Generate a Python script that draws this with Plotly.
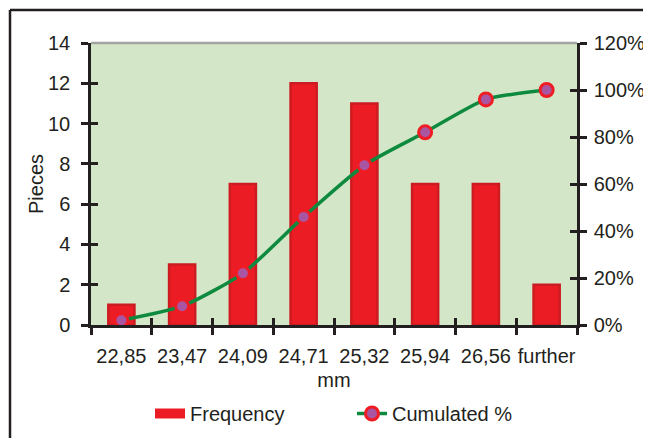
import plotly.graph_objects as go

categories = ["22,85", "23,47", "24,09", "24,71", "25,32", "25,94", "26,56", "further"]
frequency = [1, 3, 7, 12, 11, 7, 7, 2]
cumulated_pct = [0.02, 0.08, 0.22, 0.46, 0.68, 0.82, 0.96, 1.00]

OFF = 8  # default page body margin
W, H = 651 - OFF, 438 - OFF
L, R, T, B = 91, 577, 43, 325  # plot area box in window pixels
FONT = "Liberation Sans, Arial, sans-serif"
AXC = "#231f20"
BAR_RED = "#ec1c24"

def px_x(p):
    return (p - L) / (R - L)

def px_y(p):
    return (B - p) / (B - T)

fig = go.Figure()
fig.add_trace(go.Bar(
    x=categories, y=frequency, name="Frequency", showlegend=False,
    marker=dict(color=BAR_RED, line=dict(color="#cc1b21", width=2.5)),
    width=0.43, yaxis="y",
))
# legend entry for bars drawn as a wide red block, like the reference
fig.add_trace(go.Scatter(
    x=[None], y=[None], name="Frequency", mode="lines",
    line=dict(color=BAR_RED, width=16), yaxis="y", hoverinfo="skip",
))
fig.add_trace(go.Scatter(
    x=categories, y=cumulated_pct, name="Cumulated %", yaxis="y2",
    mode="lines+markers",
    line=dict(color="#0e8a3f", width=3.5, shape="spline", smoothing=0.6),
    marker=dict(color="#a955a2", size=13,
                line=dict(color="#f01c24", width=3)),
))
# helper invisible traces for crossing ticks
fig.add_trace(go.Scatter(x=categories, y=frequency, xaxis="x2", yaxis="y3",
                         mode="markers", marker=dict(opacity=0), showlegend=False,
                         hoverinfo="skip"))
fig.add_trace(go.Scatter(x=categories, y=cumulated_pct, xaxis="x2", yaxis="y4",
                         mode="markers", marker=dict(opacity=0), showlegend=False,
                         hoverinfo="skip"))

FS = 20
tickfont = dict(family=FONT, size=FS, color="#231f20")

fig.update_layout(
    width=W, height=H,
    margin=dict(l=L - OFF, r=W - (R - OFF), t=T - OFF, b=H - (B - OFF), pad=0,
                autoexpand=False),
    paper_bgcolor="white",
    plot_bgcolor="#d3e7c8",
    font=dict(family=FONT, size=FS, color="#231f20"),
    xaxis=dict(
        type="category", showgrid=False, tickson="boundaries", automargin=False,
        ticks="outside", ticklen=7, tickwidth=2.5, tickcolor=AXC, tickangle=0,
        ticklabelstandoff=11,
        showline=True, linecolor=AXC, linewidth=2.5,
        tickfont=tickfont, title=dict(text="mm", font=dict(size=FS), standoff=8),
        range=[-0.5, 7.5],
    ),
    xaxis2=dict(
        type="category", overlaying="x", matches="x", tickson="boundaries",
        ticks="inside", ticklen=7, tickwidth=2.5, tickcolor=AXC, automargin=False,
        showticklabels=False, showgrid=False, showline=False,
    ),
    yaxis=dict(
        range=[0, 14], dtick=2, showgrid=False, automargin=False,
        ticks="outside", ticklen=7, tickwidth=2.5, tickcolor=AXC,
        ticklabelstandoff=7,
        showline=True, linecolor=AXC, linewidth=2.5,
        tickfont=tickfont, zeroline=False,
        title=dict(text="Pieces", font=dict(size=FS), standoff=0),
    ),
    yaxis3=dict(
        range=[0, 14], dtick=2, overlaying="y", side="left", showgrid=False,
        ticks="inside", ticklen=7, tickwidth=2.5, tickcolor=AXC, automargin=False,
        showticklabels=False, showline=False, zeroline=False,
    ),
    yaxis2=dict(
        range=[0, 1.2], dtick=0.2, tickformat=".0%", overlaying="y", side="right",
        showgrid=False, ticks="outside", ticklen=7, tickwidth=2.5, tickcolor=AXC,
        ticklabelstandoff=3,
        showline=True, linecolor=AXC, linewidth=2.5, zeroline=False, automargin=False,
        tickfont=tickfont,
    ),
    yaxis4=dict(
        range=[0, 1.2], dtick=0.2, overlaying="y", side="right", showgrid=False,
        ticks="inside", ticklen=7, tickwidth=2.5, tickcolor=AXC, automargin=False,
        showticklabels=False, showline=False, zeroline=False,
    ),
    legend=dict(
        orientation="h", x=px_x(150), y=px_y(394), xanchor="left", yanchor="top",
        font=dict(size=FS), bgcolor="rgba(0,0,0,0)", traceorder="normal",
        entrywidth=157, itemwidth=30,
    ),
    showlegend=True,
    shapes=[
        dict(type="line", xref="paper", yref="paper", x0=0, x1=1, y0=1, y1=1,
             line=dict(color="#a3a3a3", width=2.5), layer="below"),
        dict(type="line", xref="paper", yref="paper",
             x0=px_x(10), x1=px_x(10), y0=px_y(10), y1=px_y(460),
             line=dict(color=AXC, width=2.5)),
        dict(type="line", xref="paper", yref="paper",
             x0=px_x(10), x1=px_x(670), y0=px_y(10), y1=px_y(10),
             line=dict(color=AXC, width=2.5)),
    ],
)

fig.write_html("out.html")
